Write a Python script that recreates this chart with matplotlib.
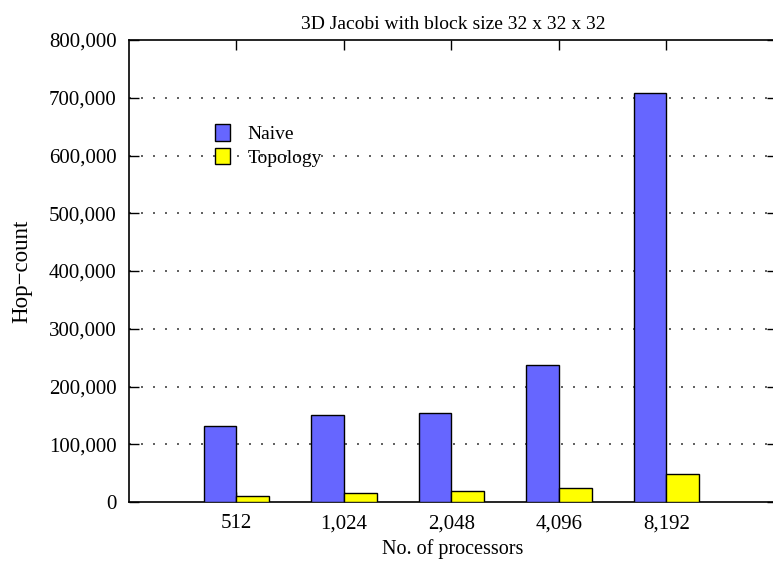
import numpy as np
import matplotlib.pyplot as plt
from matplotlib.ticker import FuncFormatter

processors = ['512', '1,024', '2,048', '4,096', '8,192']
naive = [131000, 150000, 154000, 238000, 709000]
topology = [11000, 15500, 19000, 24000, 48000]

plt.rcParams['font.family'] = ['Liberation Serif', 'DejaVu Serif']

fig = plt.figure(figsize=(7.73, 5.71), dpi=100)
ax = fig.add_axes([129 / 773, 69 / 571, 648 / 773, 462 / 571])

x = np.arange(len(processors))
w = 0.305
ax.bar(x - w / 2, naive, w, color='#6666ff', edgecolor='black', linewidth=1.0, label='Naive', zorder=3)
ax.bar(x + w / 2, topology, w, color='#ffff00', edgecolor='black', linewidth=1.0, label='Topology', zorder=3)

ax.set_xlim(-1, 5.03)
ax.set_ylim(0, 800000)
ax.set_yticks(np.arange(0, 800001, 100000))
ax.yaxis.set_major_formatter(FuncFormatter(lambda v, p: f'{int(v):,}'))
ax.set_xticks(x)
ax.set_xticklabels(processors)

# dotted grid lines at the inner y ticks only
for v in range(100000, 800000, 100000):
    ax.axhline(v, color='#444444', linestyle=(0, (1.2, 6)), linewidth=1.2, zorder=1)

ax.tick_params(direction='in', length=7, width=1, top=True, right=True,
               labelsize=15, pad=9)
for s in ax.spines.values():
    s.set_linewidth(1.2)

ax.set_title('3D Jacobi with block size 32 x 32 x 32', fontsize=14, pad=8)
ax.set_xlabel('No. of processors', fontsize=14.5, labelpad=4)
ax.set_ylabel('Hop\u2212count', fontsize=16.5, labelpad=12)

ax.legend(loc='upper left', bbox_to_anchor=(207 / 773, 1 - 116 / 571),
          bbox_transform=fig.transFigure, frameon=False, fontsize=14,
          handlelength=0.8, handleheight=0.95, handletextpad=0.9,
          labelspacing=0.25, borderaxespad=0)

fig.savefig('out.png', dpi=100)
